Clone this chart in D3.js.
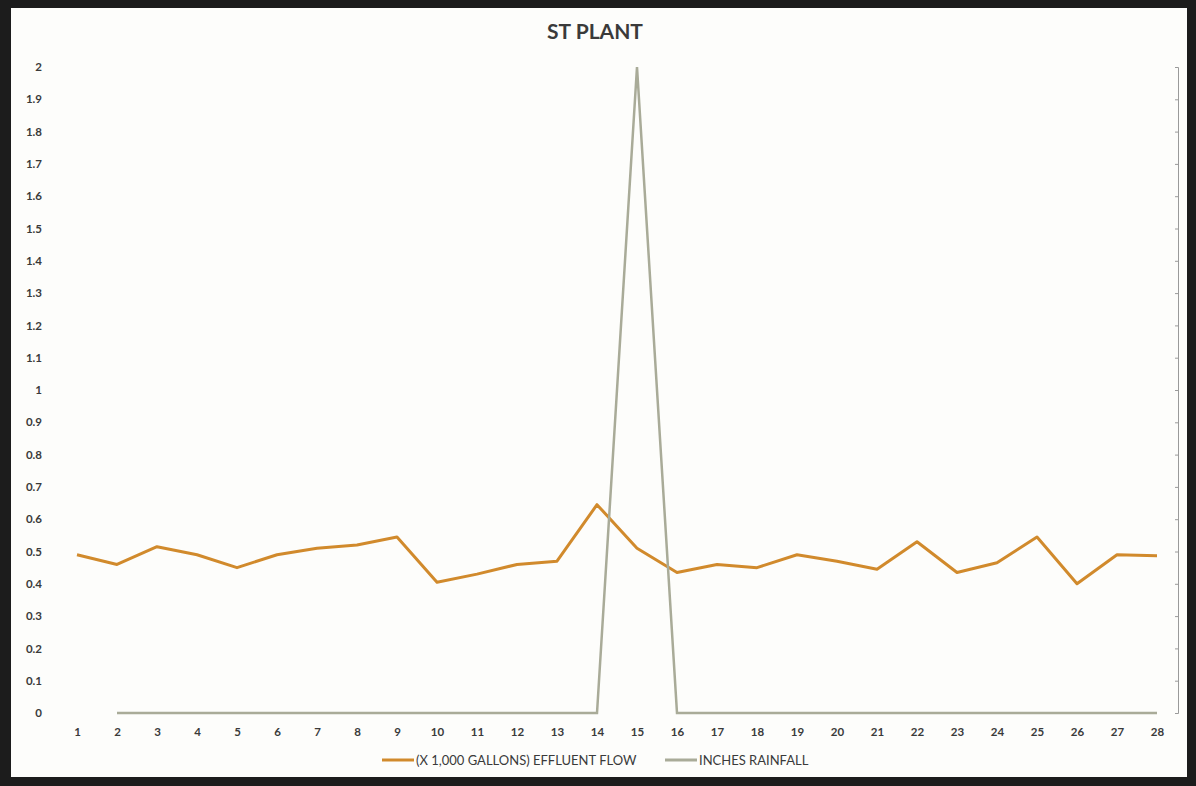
<!DOCTYPE html>
<head>
  <meta charset="utf-8">
  <script src="https://cdnjs.cloudflare.com/ajax/libs/d3/7.8.5/d3.min.js"></script>
</head>

<style>
body {
  margin: 0;
  background-color: #1c1c1c;
}
svg text {
  font-family: Lato, "Open Sans", sans-serif;
  fill: #3a3a3a;
}
</style>

<body>
  <svg id='chart' width='1196' height='786'></svg>
</body>

<script>

// day of month
var days = d3.range(1, 29);
var flow = [0.49, 0.46, 0.515, 0.49, 0.45, 0.49, 0.51, 0.52, 0.545, 0.405,
            0.43, 0.46, 0.47, 0.645, 0.51, 0.435, 0.46, 0.45, 0.49, 0.47,
            0.445, 0.53, 0.435, 0.465, 0.545, 0.40, 0.49, 0.487];
// day 1 has no rainfall reading
var rain = [null, 0, 0, 0, 0, 0, 0, 0, 0, 0,
            0, 0, 0, 0, 2, 0, 0, 0, 0, 0,
            0, 0, 0, 0, 0, 0, 0, 0];
var yTicks = d3.range(0, 21).map(function(d){ return d / 10; });
var seriesNames = ['(X 1,000 GALLONS) EFFLUENT FLOW', 'INCHES RAINFALL'];
var colours = ['#d18a2c', '#a9ab98'];

var svg = d3.select('#chart');

// frame
svg.append('rect')
    .attr('x', 11).attr('y', 8)
    .attr('width', 1176).attr('height', 769)
    .attr('fill', '#fdfdfb');

var x = d3.scaleLinear().domain([1, 28]).range([77, 1157]);
var y = d3.scaleLinear().domain([0, 2]).range([713, 67]);

svg.append('text')
    .attr('x', 595).attr('y', 39)
    .attr('text-anchor', 'middle')
    .style('font-size', '21px')
    .style('font-weight', 'bold')
    .text('ST PLANT');

var yAxis = svg.append('g')
    .attr('transform', 'translate(46,0)')
    .call(d3.axisLeft(y).tickValues(yTicks).tickSize(0).tickPadding(4)
      .tickFormat(function(d){ return d === 0 ? '0' : d3.format('~g')(d); }));
yAxis.select('.domain').remove();
yAxis.selectAll('text')
    .style('font-size', '11.5px')
    .style('font-weight', 'bold')
    .attr('fill', '#3a3a3a');

var xAxis = svg.append('g')
    .attr('transform', 'translate(0,724)')
    .call(d3.axisBottom(x).tickValues(days).tickSize(0).tickPadding(4)
      .tickFormat(d3.format('d')));
xAxis.select('.domain').remove();
xAxis.selectAll('text')
    .style('font-size', '11.5px')
    .style('font-weight', 'bold')
    .attr('fill', '#3a3a3a');

// secondary axis, unlabeled
var y2 = svg.append('g')
    .attr('transform', 'translate(1178,0)')
    .call(d3.axisLeft(y).tickValues(yTicks).tickSize(3).tickFormat(''));
y2.selectAll('path, line').attr('stroke', '#9a9a9a').attr('stroke-width', 1);

var line = d3.line()
    .defined(function(d){ return d[1] !== null; })
    .x(function(d){ return x(d[0]); })
    .y(function(d){ return y(d[1]); });

svg.append('path')
    .datum(days.map(function(d, i){ return [d, flow[i]]; }))
    .attr('d', line)
    .attr('fill', 'none')
    .attr('stroke', colours[0])
    .attr('stroke-width', 3)
    .attr('stroke-linejoin', 'round');

svg.append('path')
    .datum(days.map(function(d, i){ return [d, rain[i]]; }))
    .attr('d', line)
    .attr('fill', 'none')
    .attr('stroke', colours[1])
    .attr('stroke-width', 2.5);

// legend
var legendX = [382, 665];
var lg = svg.selectAll('.legend')
    .data(seriesNames)
  .enter().append('g')
    .attr('class', 'legend')
    .attr('transform', function(d, i){ return 'translate(' + legendX[i] + ',760)'; });

lg.append('line')
    .attr('x1', 0).attr('x2', 32)
    .attr('stroke', function(d, i){ return colours[i]; })
    .attr('stroke-width', 3);

lg.append('text')
    .attr('x', 34).attr('y', 4.5)
    .style('font-size', '13px')
    .text(function(d){ return d; });

</script>
